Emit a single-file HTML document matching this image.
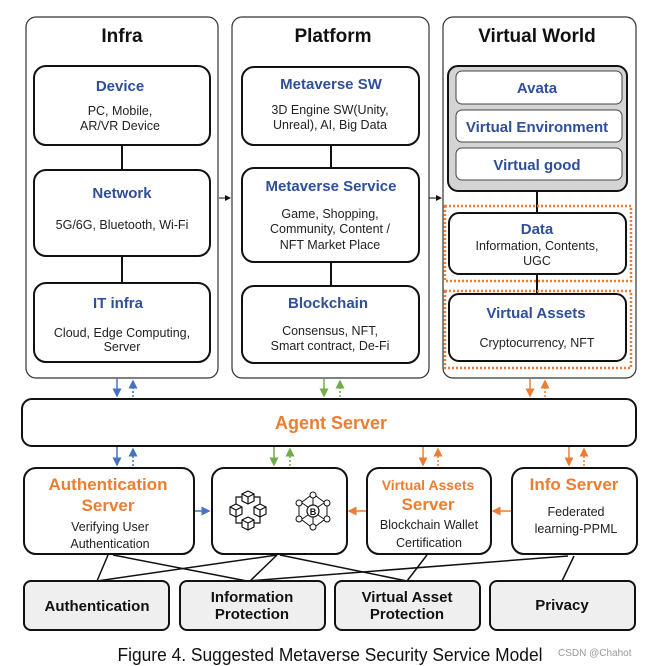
<!DOCTYPE html>
<html><head><meta charset="utf-8"><style>
html,body{margin:0;padding:0;background:#fff;}
svg{display:block;font-family:"Liberation Sans",sans-serif;}
.t{font-weight:bold;fill:#2f4f99;text-anchor:middle;font-size:15px;}
.s{fill:#222;text-anchor:middle;font-size:12.5px;}
.h{font-weight:bold;fill:#111;text-anchor:middle;font-size:19px;}
.o{font-weight:bold;fill:#ed7d31;text-anchor:middle;}
.b{font-weight:bold;fill:#111;text-anchor:middle;font-size:15px;}
</style></head><body>
<svg width="650" height="666" viewBox="0 0 650 666">
<defs>
<marker id="ak" markerWidth="6" markerHeight="6" refX="5" refY="3" orient="auto"><path d="M0,0L6,3L0,6z" fill="#111"/></marker>
<marker id="ab" markerWidth="6" markerHeight="6" refX="5" refY="3" orient="auto"><path d="M0,0L6,3L0,6z" fill="#4472c4"/></marker>
<marker id="ag" markerWidth="6" markerHeight="6" refX="5" refY="3" orient="auto"><path d="M0,0L6,3L0,6z" fill="#70ad47"/></marker>
<marker id="ao" markerWidth="6" markerHeight="6" refX="5" refY="3" orient="auto"><path d="M0,0L6,3L0,6z" fill="#ed7d31"/></marker>
<path id="cube" d="M0,-6L6,-3L6,4L0,7L-6,4L-6,-3Z M-6,-3L0,0L6,-3 M0,0L0,7" fill="none" stroke="#111" stroke-width="1.2"/>
</defs>
<g fill="none" stroke="#333" stroke-width="1.2">
<rect x="26" y="17" width="192" height="361" rx="10"/>
<rect x="232" y="17" width="197" height="361" rx="10"/>
<rect x="443" y="17" width="193" height="361" rx="10"/>
</g>
<text class="h" x="122" y="42">Infra</text>
<text class="h" x="333" y="42">Platform</text>
<text class="h" x="537" y="42">Virtual World</text>
<g stroke="#111" stroke-width="2" fill="#fff">
<line x1="122" y1="145" x2="122" y2="170"/><line x1="122" y1="256" x2="122" y2="283"/>
<line x1="331" y1="145" x2="331" y2="168"/><line x1="331" y1="262" x2="331" y2="286"/>
<line x1="537" y1="191" x2="537" y2="213"/><line x1="537" y1="274" x2="537" y2="294"/>
<rect x="34" y="66" width="176" height="79" rx="12"/>
<rect x="34" y="170" width="176" height="86" rx="12"/>
<rect x="34" y="283" width="176" height="79" rx="12"/>
<rect x="242" y="67" width="177" height="78" rx="12"/>
<rect x="242" y="168" width="177" height="94" rx="12"/>
<rect x="242" y="286" width="177" height="77" rx="12"/>
<rect x="448" y="66" width="179" height="125" rx="10" fill="#d4d4d4"/>
<rect x="449" y="213" width="177" height="61" rx="10"/>
<rect x="449" y="294" width="177" height="67" rx="10"/>
</g>
<g stroke="#444" stroke-width="1" fill="#fff">
<rect x="456" y="71" width="166" height="33" rx="6"/>
<rect x="456" y="110" width="166" height="32" rx="6"/>
<rect x="456" y="148" width="166" height="32" rx="6"/>
</g>
<g fill="none" stroke="#ed7d31" stroke-width="2.5" stroke-dasharray="2,2">
<rect x="445" y="206" width="186" height="75"/>
<rect x="445" y="291" width="186" height="77"/>
</g>
<line x1="219" y1="198" x2="230" y2="198" stroke="#111" marker-end="url(#ak)"/>
<line x1="429" y1="198" x2="441" y2="198" stroke="#111" marker-end="url(#ak)"/>
<text class="t" x="120" y="91">Device</text>
<text class="s" x="120" y="115">PC, Mobile,</text><text class="s" x="120" y="130">AR/VR Device</text>
<text class="t" x="122" y="198">Network</text>
<text class="s" x="122" y="229">5G/6G, Bluetooth, Wi-Fi</text>
<text class="t" x="118" y="308">IT infra</text>
<text class="s" x="122" y="337">Cloud, Edge Computing,</text><text class="s" x="122" y="351">Server</text>
<text class="t" x="331" y="89">Metaverse SW</text>
<text class="s" x="330" y="114">3D Engine SW(Unity,</text><text class="s" x="330" y="129">Unreal), AI, Big Data</text>
<text class="t" x="331" y="191">Metaverse Service</text>
<text class="s" x="330" y="218">Game, Shopping,</text><text class="s" x="330" y="233">Community, Content /</text><text class="s" x="330" y="249">NFT Market Place</text>
<text class="t" x="328" y="308">Blockchain</text>
<text class="s" x="330" y="335">Consensus, NFT,</text><text class="s" x="330" y="350">Smart contract, De-Fi</text>
<text class="t" x="537" y="93">Avata</text>
<text class="t" x="537" y="132">Virtual Environment</text>
<text class="t" x="537" y="170">Virtual good</text>
<text class="t" x="537" y="234">Data</text>
<text class="s" x="537" y="250">Information, Contents,</text><text class="s" x="537" y="265">UGC</text>
<text class="t" x="536" y="318">Virtual Assets</text>
<text class="s" x="537" y="347">Cryptocurrency, NFT</text>
<g stroke-width="1.5">
<line x1="117" y1="379" x2="117" y2="396" stroke="#4472c4" marker-end="url(#ab)"/>
<line x1="133" y1="397" x2="133" y2="381" stroke="#4472c4" stroke-dasharray="2,2" marker-end="url(#ab)"/>
<line x1="324" y1="379" x2="324" y2="396" stroke="#70ad47" marker-end="url(#ag)"/>
<line x1="340" y1="397" x2="340" y2="381" stroke="#70ad47" stroke-dasharray="2,2" marker-end="url(#ag)"/>
<line x1="530" y1="379" x2="530" y2="396" stroke="#ed7d31" marker-end="url(#ao)"/>
<line x1="545" y1="397" x2="545" y2="381" stroke="#ed7d31" stroke-dasharray="2,2" marker-end="url(#ao)"/>
<line x1="117" y1="447" x2="117" y2="465" stroke="#4472c4" marker-end="url(#ab)"/>
<line x1="133" y1="466" x2="133" y2="449" stroke="#4472c4" stroke-dasharray="2,2" marker-end="url(#ab)"/>
<line x1="274" y1="447" x2="274" y2="465" stroke="#70ad47" marker-end="url(#ag)"/>
<line x1="290" y1="466" x2="290" y2="449" stroke="#70ad47" stroke-dasharray="2,2" marker-end="url(#ag)"/>
<line x1="423" y1="447" x2="423" y2="465" stroke="#ed7d31" marker-end="url(#ao)"/>
<line x1="438" y1="466" x2="438" y2="449" stroke="#ed7d31" stroke-dasharray="2,2" marker-end="url(#ao)"/>
<line x1="569" y1="447" x2="569" y2="465" stroke="#ed7d31" marker-end="url(#ao)"/>
<line x1="584" y1="466" x2="584" y2="449" stroke="#ed7d31" stroke-dasharray="2,2" marker-end="url(#ao)"/>
<line x1="195" y1="511" x2="209" y2="511" stroke="#4472c4" marker-end="url(#ab)"/>
<line x1="366" y1="511" x2="349" y2="511" stroke="#ed7d31" marker-end="url(#ao)"/>
<line x1="511" y1="511" x2="493" y2="511" stroke="#ed7d31" marker-end="url(#ao)"/>
</g>
<g stroke="#111" stroke-width="1.5">
<line x1="108" y1="555" x2="97" y2="581"/><line x1="113" y1="555" x2="247" y2="581"/>
<line x1="277" y1="555" x2="97" y2="581"/><line x1="277" y1="555" x2="250" y2="581"/>
<line x1="280" y1="555" x2="407" y2="581"/><line x1="427" y1="555" x2="407" y2="581"/>
<line x1="568" y1="556" x2="247" y2="581"/><line x1="574" y1="556" x2="562" y2="581"/>
</g>
<g stroke="#111" stroke-width="2" fill="#fff">
<rect x="22" y="399" width="614" height="47" rx="10"/>
<rect x="24" y="468" width="170" height="86" rx="12"/>
<rect x="212" y="468" width="135" height="86" rx="12"/>
<rect x="367" y="468" width="124" height="86" rx="12"/>
<rect x="512" y="468" width="125" height="86" rx="12"/>
<g fill="#efefef">
<rect x="24" y="581" width="145" height="49" rx="7"/>
<rect x="180" y="581" width="145" height="49" rx="7"/>
<rect x="335" y="581" width="145" height="49" rx="7"/>
<rect x="490" y="581" width="145" height="49" rx="7"/>
</g>
</g>
<text class="o" x="331" y="429" font-size="18">Agent Server</text>
<text class="o" x="108" y="490" font-size="17">Authentication</text>
<text class="o" x="108" y="511" font-size="17">Server</text>
<text class="s" x="110" y="531" font-size="13">Verifying User</text><text class="s" x="110" y="548" font-size="13">Authentication</text>
<text class="o" x="428" y="490" font-size="14">Virtual Assets</text>
<text class="o" x="428" y="510" font-size="17">Server</text>
<text class="s" x="429" y="529" font-size="13">Blockchain Wallet</text><text class="s" x="429" y="547" font-size="13">Certification</text>
<text class="o" x="574" y="490" font-size="17">Info Server</text>
<text class="s" x="576" y="516" font-size="13">Federated</text><text class="s" x="576" y="533" font-size="13">learning-PPML</text>
<text class="b" x="97" y="611" font-size="14">Authentication</text>
<text class="b" x="252" y="602" font-size="14">Information</text><text class="b" x="252" y="619" font-size="14">Protection</text>
<text class="b" x="407" y="602" font-size="14">Virtual Asset</text><text class="b" x="407" y="619" font-size="14">Protection</text>
<text class="b" x="562" y="610" font-size="14">Privacy</text>
<use href="#cube" x="248" y="497"/><use href="#cube" x="236" y="510"/><use href="#cube" x="260" y="510"/><use href="#cube" x="248" y="523"/>
<g fill="none" stroke="#111" stroke-width="1.2">
<path d="M242,497H236V504 M254,497H260V504 M236,517V523H242 M260,517V523H254"/>
<circle cx="313" cy="511" r="6"/>
<g stroke-width="1"><circle cx="313" cy="495" r="3"/><circle cx="313" cy="527" r="3"/><circle cx="299" cy="503" r="3"/><circle cx="327" cy="503" r="3"/><circle cx="299" cy="519" r="3"/><circle cx="327" cy="519" r="3"/>
<path d="M313,498V505 M313,517V524 M302,503L308,507 M324,503L318,507 M302,519L308,515 M324,519L318,515 M299,506V516 M327,506V516 M302,502L310,496 M324,502L316,496 M302,520L310,526 M324,520L316,526"/></g>
</g>
<text x="313" y="515" font-size="9" font-weight="bold" text-anchor="middle" fill="#111">B</text>
<text x="330" y="661" font-size="18" text-anchor="middle" fill="#111" textLength="425" lengthAdjust="spacingAndGlyphs">Figure 4. Suggested Metaverse Security Service Model</text>
<text x="558" y="656" font-size="10" fill="#999">CSDN @Chahot</text>
</svg>
</body></html>
